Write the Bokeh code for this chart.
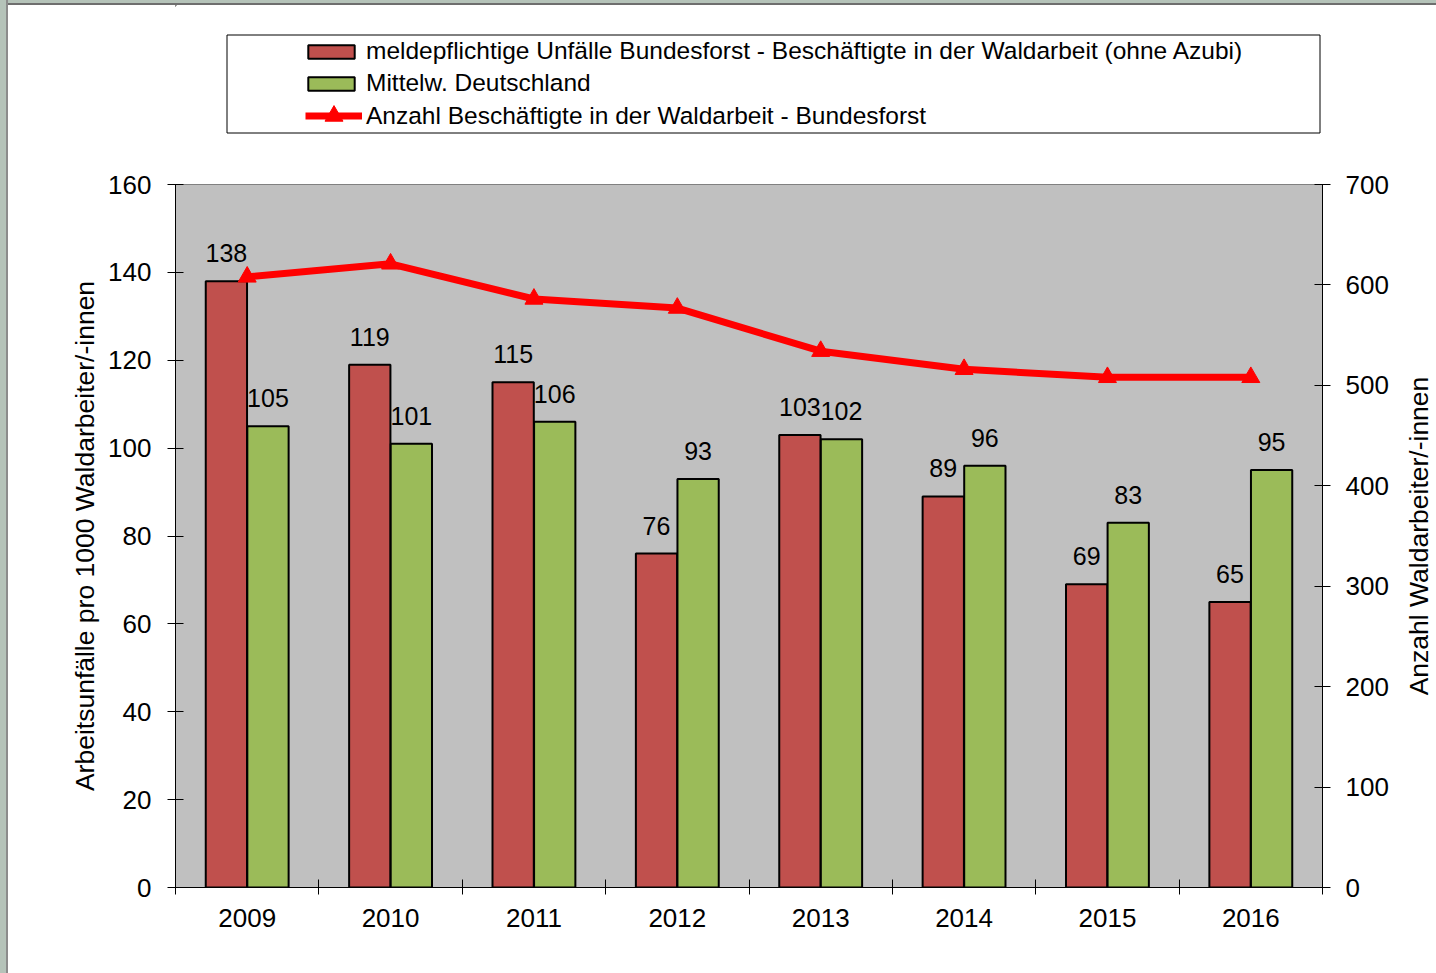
import math
from bokeh.plotting import figure
from bokeh.layouts import column
from bokeh.models import (Range1d, LinearAxis, FixedTicker, Legend, LegendItem,
                          ColumnDataSource, BoxAnnotation, Label)
from bokeh.transform import dodge
from bokeh.core.properties import value
from bokeh.embed import file_html
from bokeh.resources import INLINE

# ---- data ----
years = ["2009", "2010", "2011", "2012", "2013", "2014", "2015", "2016"]
unfaelle_bundesforst = [138, 119, 115, 76, 103, 89, 69, 65]
mittelwert_deutschland = [105, 101, 106, 93, 102, 96, 83, 95]
beschaeftigte_bundesforst = [608, 621, 586, 577, 534, 516, 508, 508]
left_ticks = [0, 20, 40, 60, 80, 100, 120, 140, 160]
right_ticks = [0, 100, 200, 300, 400, 500, 600, 700]

label_red = "meldepflichtige Unfälle Bundesforst - Beschäftigte in der Waldarbeit (ohne Azubi)"
label_green = "Mittelw. Deutschland"
label_line = "Anzahl Beschäftigte in der Waldarbeit - Bundesforst"
left_title = "Arbeitsunfälle pro 1000 Waldarbeiter/-innen"
right_title = "Anzahl Waldarbeiter/-innen"

FONT = "Liberation Sans"
RED = "#c0504d"
GREEN = "#9bbb59"
LINE = "#ff0000"
STRIP = "#b5c3b9"

n = len(years)
src = ColumnDataSource(dict(
    x=[i + 0.5 for i in range(n)],
    unf=unfaelle_bundesforst,
    mit=mittelwert_deutschland,
    bes=beschaeftigte_bundesforst,
    unf_lbl=[str(v) for v in unfaelle_bundesforst],
    mit_lbl=[str(v) for v in mittelwert_deutschland],
))

# ---------------- legend panel (top) ----------------
# frame spans canvas x 175..1322 and y 5..155, ranges are in page pixels
top = figure(width=1428, height=150, output_backend="svg", toolbar_location=None,
             x_range=Range1d(175, 1322), y_range=Range1d(155, 5),
             x_axis_location=None, y_axis_location=None,
             min_border_left=167, min_border_right=114,
             min_border_top=0, min_border_bottom=0,
             background_fill_color="white", border_fill_color="white",
             outline_line_color=None)
top.xgrid.visible = False
top.ygrid.visible = False
top.margin = (5, 0, 0, 8)

# legend frame
top.add_layout(BoxAnnotation(left=226.5, right=1319.5, top=34.5, bottom=132.5,
                             fill_alpha=0, line_color="black", line_alpha=1,
                             line_width=1))

# off-range dummies so the legend can draw its swatches
d_red = top.vbar(x=[-5000], top=[-5000], width=1, fill_color=RED,
                 line_color="black", line_width=2)
d_green = top.vbar(x=[-5000], top=[-5000], width=1, fill_color=GREEN,
                   line_color="black", line_width=2)
d_line = top.line(x=[-5000, -4000], y=[-5000, -5000], line_color=LINE, line_width=7)
d_pts = top.scatter(x=[-5000], y=[-5000], marker="triangle", size=18,
                    fill_color=LINE, line_color=LINE)

common = dict(orientation="vertical", border_line_color=None,
              background_fill_alpha=0, margin=0,
              label_text_font=FONT, label_text_font_size="24.5px",
              label_text_color="black")

legend_bars = Legend(items=[
    LegendItem(label=label_red, renderers=[d_red]),
    LegendItem(label=label_green, renderers=[d_green]),
], location=(127, 58), padding=3, spacing=4, glyph_width=58, label_standoff=6,
    glyph_height=17, label_height=28, **common)
top.add_layout(legend_bars, "center")

legend_line = Legend(items=[
    LegendItem(label=label_line, renderers=[d_line, d_pts]),
], location=(130, 17), padding=0, spacing=0, glyph_width=57, label_standoff=4,
    glyph_height=45, label_height=45, **common)
top.add_layout(legend_line, "center")

# ---------------- main chart ----------------
p = figure(width=1428, height=818, output_backend="svg", toolbar_location=None,
           x_range=Range1d(0, n), y_range=Range1d(0, 160),
           min_border_left=167, min_border_right=114, min_border_top=29,
           min_border_bottom=86,
           background_fill_color="#c0c0c0", border_fill_color="white",
           outline_line_color="#808080", outline_line_width=1)
p.margin = (0, 0, 0, 8)
p.xgrid.visible = False
p.ygrid.visible = False
p.extra_y_ranges = {"right": Range1d(0, 700)}

BW = 0.288
OFF = 0.145
p.vbar(x=dodge("x", -OFF), top="unf", width=BW, source=src,
       fill_color=RED, line_color="black", line_width=2)
p.vbar(x=dodge("x", OFF), top="mit", width=BW, source=src,
       fill_color=GREEN, line_color="black", line_width=2)

for col, lbl, off in (("unf", "unf_lbl", -OFF), ("mit", "mit_lbl", OFF)):
    p.text(x=dodge("x", off), y=col, text=lbl, source=src,
           text_align="center", text_baseline="alphabetic", y_offset=-28,
           text_font=value(FONT), text_font_size="25px", text_color="black")

p.line(x="x", y="bes", source=src, y_range_name="right",
       line_color=LINE, line_width=7)
p.scatter(x="x", y="bes", source=src, y_range_name="right",
          marker="triangle", size=18, fill_color=LINE, line_color=LINE)

# ---- axes ----
xa = p.xaxis[0]
xa.ticker = FixedTicker(ticks=[i + 0.5 for i in range(n)],
                        minor_ticks=list(range(n + 1)))
xa.major_label_overrides = {i + 0.5: y for i, y in enumerate(years)}
xa.major_tick_line_color = None
xa.minor_tick_line_color = "black"
xa.minor_tick_in = 8
xa.minor_tick_out = 7
xa.axis_line_color = "black"
xa.major_label_text_font = FONT
xa.major_label_text_font_size = "26px"
xa.major_label_text_color = "black"
xa.major_label_standoff = 14

ya = p.yaxis[0]
ya.ticker = FixedTicker(ticks=left_ticks, minor_ticks=[])
ya.major_tick_in = 8
ya.major_tick_out = 8
ya.major_tick_line_color = "black"
ya.axis_line_color = "black"
ya.major_label_text_font = FONT
ya.major_label_text_font_size = "26px"
ya.major_label_text_color = "black"
ya.major_label_standoff = 16
ya.axis_label = left_title
ya.axis_label_text_font = FONT
ya.axis_label_text_font_size = "26.5px"
ya.axis_label_text_font_style = "normal"
ya.axis_label_text_color = "black"
ya.axis_label_standoff = 5

ra = LinearAxis(y_range_name="right",
                ticker=FixedTicker(ticks=right_ticks, minor_ticks=[]))
ra.major_tick_in = 8
ra.major_tick_out = 8
ra.major_tick_line_color = "black"
ra.axis_line_color = "black"
ra.major_label_text_font = FONT
ra.major_label_text_font_size = "26px"
ra.major_label_text_color = "black"
ra.major_label_standoff = 15
p.add_layout(ra, "right")

# right axis title, reading bottom-to-top, centred on the frame
p.add_layout(Label(x=n + 96 / 143.375, y=80, text=right_title, angle=math.pi / 2,
                   text_align="center", text_baseline="middle",
                   text_font=FONT, text_font_size="26.5px", text_color="black"),
             "right")

page = column(top, p, spacing=0, styles={
    "background-color": "white",
    "background-image": (
        "linear-gradient(to right, %s 0px, %s 6px, #8c8c8c 6px, #8c8c8c 8px, transparent 8px), "
        "linear-gradient(to bottom, %s 0px, %s 3px, #6e6e6e 3px, #6e6e6e 5px, white 5px)"
    ) % (STRIP, STRIP, STRIP, STRIP),
})

open("out.html", "w").write(file_html(page, INLINE))
